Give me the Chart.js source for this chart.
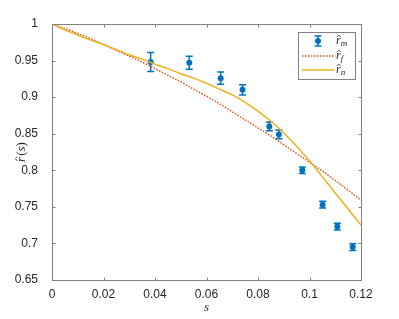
<!DOCTYPE html>
<html>
<head>
<meta charset="utf-8">
<script src="https://cdn.jsdelivr.net/npm/chart.js@4"></script>
<style>
html, body { margin: 0; padding: 0; background: #fff; }
#wrap { width: 399px; height: 319px; }
</style>
</head>
<body>
<div id="wrap"><canvas id="fig"></canvas></div>
<script>
// measured r-hat values with error bars
const sMeas = [0.0383, 0.0533, 0.0655, 0.0740, 0.0844, 0.0881, 0.0972, 0.1051, 0.1108, 0.1168];
const rMeas = [0.948, 0.947, 0.926, 0.910, 0.860, 0.849, 0.800, 0.753, 0.723, 0.695];
const rErr  = [0.013, 0.009, 0.0085, 0.007, 0.006, 0.006, 0.0045, 0.0045, 0.0045, 0.0045];

const sFit = [0, 0.005, 0.01, 0.015, 0.02, 0.025, 0.03, 0.035, 0.04, 0.045, 0.05, 0.055, 0.06,
              0.065, 0.07, 0.075, 0.08, 0.085, 0.09, 0.095, 0.1, 0.105, 0.11, 0.115, 0.12];
const rF = [1.000, 0.994, 0.987, 0.980, 0.972, 0.964, 0.956, 0.948, 0.939, 0.930, 0.921, 0.911, 0.901,
            0.891, 0.880, 0.869, 0.858, 0.847, 0.835, 0.823, 0.811, 0.799, 0.786, 0.773, 0.759];
const rN = [1.000, 0.992, 0.985, 0.978, 0.972, 0.965, 0.958, 0.952, 0.945, 0.939, 0.932, 0.926, 0.919,
            0.911, 0.903, 0.893, 0.881, 0.867, 0.851, 0.833, 0.813, 0.791, 0.769, 0.747, 0.725];

const xTicks = [0, 0.02, 0.04, 0.06, 0.08, 0.1, 0.12];
const yTicks = [0.65, 0.7, 0.75, 0.8, 0.85, 0.9, 0.95, 1];
const legendSubs = ['m', 'f', 'n'];

const BLUE = '#0072BD', RED = '#D95319', YELLOW = '#EDB120';
const AXIS = '#808080', TEXT = '#262626';
const TICK_FONT = { family: '"Liberation Sans", Arial, sans-serif', size: 12 };

function fmt(v) { return String(Number(v.toFixed(2))); }

// italic r with a hat on it, returns width used
function drawRHat(ctx, x, y, size) {
    ctx.font = 'italic ' + size + 'px "Liberation Serif"';
    ctx.textAlign = 'left';
    ctx.textBaseline = 'alphabetic';
    ctx.fillText('r', x, y);
    const w = ctx.measureText('r').width;
    const cx = x + w * 0.6, hy = y - size * 0.58;
    ctx.beginPath();
    ctx.moveTo(cx - size * 0.16, hy);
    ctx.lineTo(cx, hy - size * 0.16);
    ctx.lineTo(cx + size * 0.16, hy);
    ctx.lineWidth = 0.8;
    ctx.stroke();
    return w;
}

const errorBars = {
    id: 'errorBars',
    afterDatasetDraw(chart, args) {
        if (args.index !== 0) return;
        const { ctx, scales: { x, y } } = chart;
        ctx.save();
        ctx.strokeStyle = BLUE;
        ctx.lineWidth = 1.5;
        sMeas.forEach((s, i) => {
            const px = x.getPixelForValue(s);
            const top = y.getPixelForValue(rMeas[i] + rErr[i]);
            const bot = y.getPixelForValue(rMeas[i] - rErr[i]);
            ctx.beginPath();
            ctx.moveTo(px, top); ctx.lineTo(px, bot);
            ctx.moveTo(px - 3.5, top); ctx.lineTo(px + 3.5, top);
            ctx.moveTo(px - 3.5, bot); ctx.lineTo(px + 3.5, bot);
            ctx.stroke();
        });
        ctx.restore();
    }
};

const frame = {
    id: 'frame',
    afterDraw(chart) {
        const { ctx, chartArea: a, scales: { x, y } } = chart;
        ctx.save();
        // box + inward ticks, matlab style
        ctx.strokeStyle = AXIS;
        ctx.lineWidth = 1;
        const L = Math.round(a.left) + 0.5, R = Math.round(a.right) + 0.5;
        const T = Math.round(a.top) + 0.5, B = Math.round(a.bottom) + 0.5;
        ctx.strokeRect(L, T, R - L, B - T);
        ctx.beginPath();
        xTicks.forEach(v => {
            const px = Math.round(x.getPixelForValue(v)) + 0.5;
            ctx.moveTo(px, B); ctx.lineTo(px, B - 3);
            ctx.moveTo(px, T); ctx.lineTo(px, T + 3);
        });
        yTicks.forEach(v => {
            const py = Math.round(y.getPixelForValue(v)) + 0.5;
            ctx.moveTo(L, py); ctx.lineTo(L + 3, py);
            ctx.moveTo(R, py); ctx.lineTo(R - 3, py);
        });
        ctx.stroke();

        // axis titles
        ctx.fillStyle = TEXT;
        ctx.strokeStyle = TEXT;
        ctx.font = 'italic 13px "Liberation Serif"';
        ctx.textAlign = 'center';
        ctx.textBaseline = 'alphabetic';
        ctx.fillText('s', (a.left + a.right) / 2, 311);

        ctx.save();
        ctx.translate(25, (a.top + a.bottom) / 2);
        ctx.rotate(-Math.PI / 2);
        ctx.font = '13px "Liberation Serif"';
        const wp = ctx.measureText('(').width;
        ctx.font = 'italic 13px "Liberation Serif"';
        const wr = ctx.measureText('r').width, ws = ctx.measureText('s').width;
        let cx = -(wr + 2 * wp + ws + 1) / 2;
        cx += drawRHat(ctx, cx, 0, 13) + 1;
        ctx.font = '13px "Liberation Serif"';
        ctx.fillText('(', cx, 0); cx += wp;
        ctx.font = 'italic 13px "Liberation Serif"';
        ctx.fillText('s', cx, 0); cx += ws;
        ctx.font = '13px "Liberation Serif"';
        ctx.fillText(')', cx, 0);
        ctx.restore();

        // legend box
        ctx.fillStyle = '#fff';
        ctx.fillRect(298.5, 32.5, 57, 47);
        ctx.strokeStyle = AXIS;
        ctx.strokeRect(298.5, 32.5, 57, 47);
        const rows = [41, 56, 70];
        const ix = 318;
        // errorbar icon
        ctx.strokeStyle = BLUE; ctx.fillStyle = BLUE; ctx.lineWidth = 1.5;
        ctx.beginPath();
        ctx.moveTo(ix, rows[0] - 5); ctx.lineTo(ix, rows[0] + 5);
        ctx.moveTo(ix - 3.5, rows[0] - 5); ctx.lineTo(ix + 3.5, rows[0] - 5);
        ctx.moveTo(ix - 3.5, rows[0] + 5); ctx.lineTo(ix + 3.5, rows[0] + 5);
        ctx.stroke();
        ctx.beginPath(); ctx.arc(ix, rows[0], 3, 0, 2 * Math.PI); ctx.fill();
        // line icons
        ctx.setLineDash([1.5, 1.5]);
        ctx.strokeStyle = RED;
        ctx.beginPath(); ctx.moveTo(302, rows[1]); ctx.lineTo(334, rows[1]); ctx.stroke();
        ctx.setLineDash([]);
        ctx.strokeStyle = YELLOW;
        ctx.beginPath(); ctx.moveTo(302, rows[2]); ctx.lineTo(334, rows[2]); ctx.stroke();
        // labels
        ctx.fillStyle = TEXT; ctx.strokeStyle = TEXT;
        legendSubs.forEach((sub, i) => {
            const w = drawRHat(ctx, 336, rows[i] + 3, 12);
            ctx.font = 'italic 9px "Liberation Serif"';
            ctx.fillText(sub, 336 + w, rows[i] + 5);
        });
        ctx.restore();
    }
};

new Chart(document.getElementById('fig'), {
    type: 'scatter',
    data: {
        datasets: [
            {
                label: 'r_m',
                data: sMeas.map((s, i) => ({ x: s, y: rMeas[i] })),
                backgroundColor: BLUE,
                borderColor: BLUE,
                pointRadius: 3,
                pointBorderWidth: 0,
                showLine: false,
                order: 3
            },
            {
                label: 'r_f',
                data: sFit.map((s, i) => ({ x: s, y: rF[i] })),
                borderColor: RED,
                borderWidth: 1.5,
                borderDash: [1.5, 1.5],
                pointRadius: 0,
                showLine: true,
                cubicInterpolationMode: 'monotone',
                order: 2
            },
            {
                label: 'r_n',
                data: sFit.map((s, i) => ({ x: s, y: rN[i] })),
                borderColor: YELLOW,
                borderWidth: 1.5,
                pointRadius: 0,
                showLine: true,
                cubicInterpolationMode: 'monotone',
                order: 1
            }
        ]
    },
    options: {
        responsive: true,
        maintainAspectRatio: false,
        animation: false,
        devicePixelRatio: 1,
        layout: { padding: { left: 0, right: 38, top: 24, bottom: 0 } },
        plugins: { legend: { display: false }, tooltip: { enabled: false } },
        scales: {
            x: {
                type: 'linear', min: 0, max: 0.12,
                afterBuildTicks: s => { s.ticks = xTicks.map(v => ({ value: v })); },
                afterFit: s => { s.height = 39; },
                ticks: { callback: v => fmt(v), font: TICK_FONT, color: TEXT, padding: -1, maxRotation: 0 },
                grid: { display: false },
                border: { display: false }
            },
            y: {
                type: 'linear', min: 0.65, max: 1,
                afterBuildTicks: s => { s.ticks = yTicks.map(v => ({ value: v })); },
                afterFit: s => { s.width = 52; },
                ticks: { callback: v => fmt(v), font: TICK_FONT, color: TEXT, padding: 6 },
                grid: { display: false },
                border: { display: false }
            }
        }
    },
    plugins: [errorBars, frame]
});
</script>
</body>
</html>
